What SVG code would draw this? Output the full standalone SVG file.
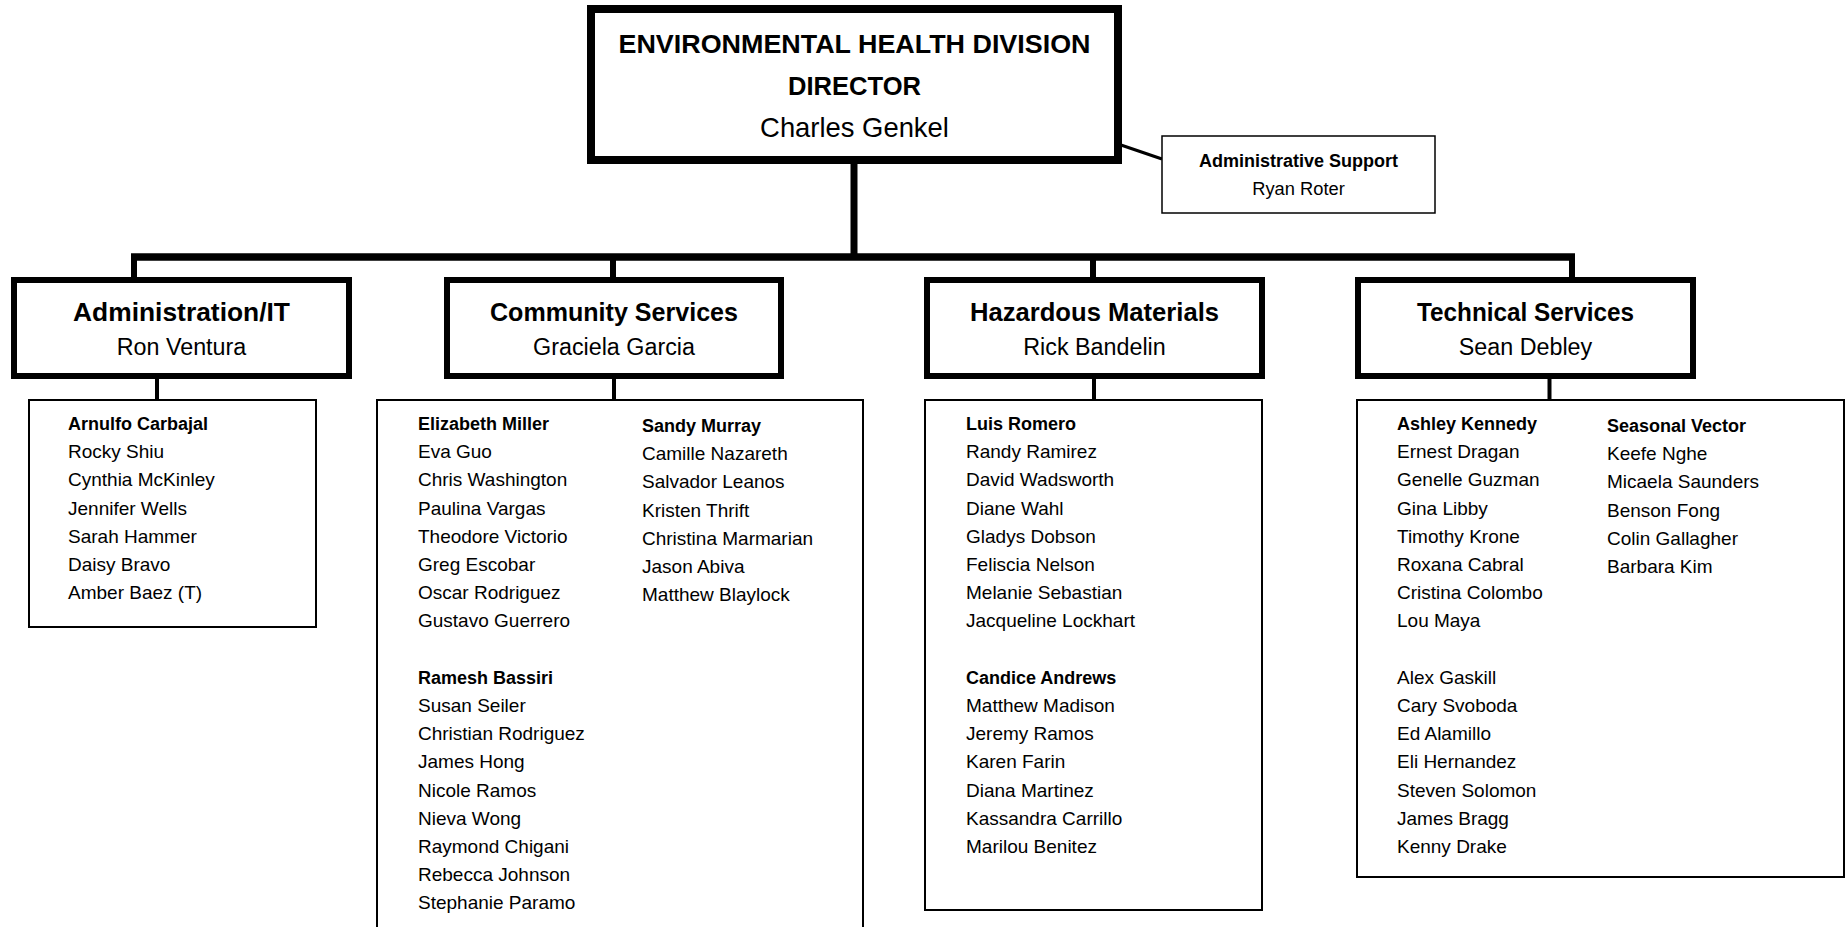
<svg xmlns="http://www.w3.org/2000/svg" width="1847" height="927" viewBox="0 0 1847 927">
<style>
text{font-family:"Liberation Sans",Arial,sans-serif;fill:#000}
.b{font-weight:bold}
.dir{font-size:26px;font-weight:bold}
.dname{font-size:27.4px}
.ttl{font-size:26px;font-weight:bold}
.nm{font-size:23.3px}
.li{font-size:19px}
.lh{font-size:18px;font-weight:bold}
.thick{fill:#fff;stroke:#000;stroke-width:6}
.thin{fill:#fff;stroke:#000;stroke-width:2}
.c{text-anchor:middle}
</style>
<rect width="1847" height="927" fill="#fff"/>
<g id="connectors" stroke="#000" fill="none">
<line x1="854" y1="160" x2="854" y2="257" stroke-width="7"/>
<line x1="131" y1="257" x2="1575" y2="257" stroke-width="7.5"/>
<line x1="134" y1="257" x2="134" y2="280" stroke-width="6"/>
<line x1="613" y1="257" x2="613" y2="280" stroke-width="6"/>
<line x1="1093" y1="257" x2="1093" y2="280" stroke-width="6"/>
<line x1="1572" y1="257" x2="1572" y2="280" stroke-width="6"/>
<line x1="1118" y1="144" x2="1162" y2="159" stroke-width="3"/>
<line x1="157" y1="376" x2="157" y2="400" stroke-width="4"/>
<line x1="614" y1="376" x2="614" y2="400" stroke-width="4"/>
<line x1="1094" y1="376" x2="1094" y2="400" stroke-width="4"/>
<line x1="1549.5" y1="376" x2="1549.5" y2="400" stroke-width="4"/>
</g>
<g id="director">
<rect x="591" y="9" width="527" height="151" fill="#fff" stroke="#000" stroke-width="8"/>
<text class="dir c" x="854.5" y="53" textLength="472" lengthAdjust="spacingAndGlyphs">ENVIRONMENTAL HEALTH DIVISION</text>
<text class="dir c" x="854.5" y="95" textLength="133" lengthAdjust="spacingAndGlyphs">DIRECTOR</text>
<text class="dname c" x="854.5" y="137">Charles Genkel</text>
</g>
<g id="admin-support">
<rect x="1162" y="136" width="273" height="77" fill="#fff" stroke="#000" stroke-width="1.5"/>
<text class="c b" x="1298.5" y="167" font-size="18">Administrative Support</text>
<text class="c" x="1298.5" y="195" font-size="18.3">Ryan Roter</text>
</g>
<g id="administration-it">
<rect class="thick" x="14" y="280" width="335" height="96"/>
<text class="ttl c" x="181.5" y="321" textLength="217" lengthAdjust="spacingAndGlyphs">Administration/IT</text>
<text class="nm c" x="181.5" y="355">Ron Ventura</text>
</g>
<g id="community-services">
<rect class="thick" x="447" y="280" width="334" height="96"/>
<text class="ttl c" x="614" y="321" textLength="248" lengthAdjust="spacingAndGlyphs">Community Services</text>
<text class="nm c" x="614" y="355">Graciela Garcia</text>
</g>
<g id="hazardous-materials">
<rect class="thick" x="927" y="280" width="335" height="96"/>
<text class="ttl c" x="1094.5" y="321" textLength="249" lengthAdjust="spacingAndGlyphs">Hazardous Materials</text>
<text class="nm c" x="1094.5" y="355">Rick Bandelin</text>
</g>
<g id="technical-services">
<rect class="thick" x="1358" y="280" width="335" height="96"/>
<text class="ttl c" x="1525.5" y="321" textLength="217" lengthAdjust="spacingAndGlyphs">Technical Services</text>
<text class="nm c" x="1525.5" y="355">Sean Debley</text>
</g>
<g id="admin-staff">
<rect class="thin" x="29" y="400" width="287" height="227"/>
<text class="lh" x="68" y="430">Arnulfo Carbajal</text>
<text class="li" x="68" y="458.2">Rocky Shiu<tspan x="68" dy="28.2">Cynthia McKinley</tspan><tspan x="68" dy="28.2">Jennifer Wells</tspan><tspan x="68" dy="28.2">Sarah Hammer</tspan><tspan x="68" dy="28.2">Daisy Bravo</tspan><tspan x="68" dy="28.2">Amber Baez (T)</tspan></text>
</g>
<g id="community-staff">
<rect class="thin" x="377" y="400" width="486" height="540"/>
<text class="lh" x="418" y="430">Elizabeth Miller</text>
<text class="li" x="418" y="458.2">Eva Guo<tspan x="418" dy="28.2">Chris Washington</tspan><tspan x="418" dy="28.2">Paulina Vargas</tspan><tspan x="418" dy="28.2">Theodore Victorio</tspan><tspan x="418" dy="28.2">Greg Escobar</tspan><tspan x="418" dy="28.2">Oscar Rodriguez</tspan><tspan x="418" dy="28.2">Gustavo Guerrero</tspan></text>
<text class="lh" x="418" y="683.8">Ramesh Bassiri</text>
<text class="li" x="418" y="712">Susan Seiler<tspan x="418" dy="28.2">Christian Rodriguez</tspan><tspan x="418" dy="28.2">James Hong</tspan><tspan x="418" dy="28.2">Nicole Ramos</tspan><tspan x="418" dy="28.2">Nieva Wong</tspan><tspan x="418" dy="28.2">Raymond Chigani</tspan><tspan x="418" dy="28.2">Rebecca Johnson</tspan><tspan x="418" dy="28.2">Stephanie Paramo</tspan></text>
<text class="lh" x="642" y="432">Sandy Murray</text>
<text class="li" x="642" y="460.2">Camille Nazareth<tspan x="642" dy="28.2">Salvador Leanos</tspan><tspan x="642" dy="28.2">Kristen Thrift</tspan><tspan x="642" dy="28.2">Christina Marmarian</tspan><tspan x="642" dy="28.2">Jason Abiva</tspan><tspan x="642" dy="28.2">Matthew Blaylock</tspan></text>
</g>
<g id="hazmat-staff">
<rect class="thin" x="925" y="400" width="337" height="510"/>
<text class="lh" x="966" y="430">Luis Romero</text>
<text class="li" x="966" y="458.2">Randy Ramirez<tspan x="966" dy="28.2">David Wadsworth</tspan><tspan x="966" dy="28.2">Diane Wahl</tspan><tspan x="966" dy="28.2">Gladys Dobson</tspan><tspan x="966" dy="28.2">Feliscia Nelson</tspan><tspan x="966" dy="28.2">Melanie Sebastian</tspan><tspan x="966" dy="28.2">Jacqueline Lockhart</tspan></text>
<text class="lh" x="966" y="683.8">Candice Andrews</text>
<text class="li" x="966" y="712">Matthew Madison<tspan x="966" dy="28.2">Jeremy Ramos</tspan><tspan x="966" dy="28.2">Karen Farin</tspan><tspan x="966" dy="28.2">Diana Martinez</tspan><tspan x="966" dy="28.2">Kassandra Carrillo</tspan><tspan x="966" dy="28.2">Marilou Benitez</tspan></text>
</g>
<g id="technical-staff">
<rect class="thin" x="1357" y="400" width="487" height="477"/>
<text class="lh" x="1397" y="430">Ashley Kennedy</text>
<text class="li" x="1397" y="458.2">Ernest Dragan<tspan x="1397" dy="28.2">Genelle Guzman</tspan><tspan x="1397" dy="28.2">Gina Libby</tspan><tspan x="1397" dy="28.2">Timothy Krone</tspan><tspan x="1397" dy="28.2">Roxana Cabral</tspan><tspan x="1397" dy="28.2">Cristina Colombo</tspan><tspan x="1397" dy="28.2">Lou Maya</tspan></text>
<text class="li" x="1397" y="683.8">Alex Gaskill<tspan x="1397" dy="28.2">Cary Svoboda</tspan><tspan x="1397" dy="28.2">Ed Alamillo</tspan><tspan x="1397" dy="28.2">Eli Hernandez</tspan><tspan x="1397" dy="28.2">Steven Solomon</tspan><tspan x="1397" dy="28.2">James Bragg</tspan><tspan x="1397" dy="28.2">Kenny Drake</tspan></text>
<text class="lh" x="1607" y="432">Seasonal Vector</text>
<text class="li" x="1607" y="460.2">Keefe Nghe<tspan x="1607" dy="28.2">Micaela Saunders</tspan><tspan x="1607" dy="28.2">Benson Fong</tspan><tspan x="1607" dy="28.2">Colin Gallagher</tspan><tspan x="1607" dy="28.2">Barbara Kim</tspan></text>
</g>
</svg>
